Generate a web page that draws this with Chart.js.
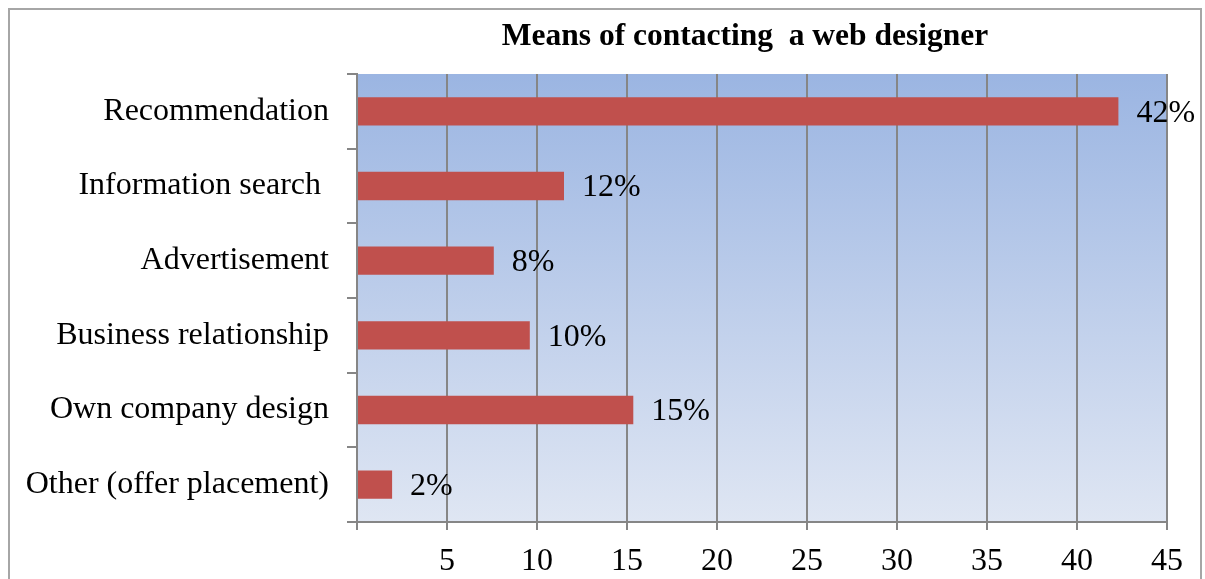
<!DOCTYPE html>
<html>
<head>
<meta charset="utf-8">
<title>Means of contacting a web designer</title>
<script src="https://cdn.jsdelivr.net/npm/chart.js@4.4.1/dist/chart.umd.min.js"></script>
<style>
  html, body { margin: 0; padding: 0; background: #fff; }
  #wrap { width: 1205px; height: 579px; }
</style>
</head>
<body>
<div id="wrap"><canvas id="contactChart" width="1205" height="579"></canvas></div>
<script>
const chartTitle = 'Means of contacting  a web designer';
const categories = [
  'Recommendation',
  'Information search ',
  'Advertisement',
  'Business relationship',
  'Own company design',
  'Other (offer placement)'
];
const shares = [42.3, 11.5, 7.6, 9.6, 15.35, 1.95];
const shareLabels = ['42%', '12%', '8%', '10%', '15%', '2%'];
const xTicks = [0, 5, 10, 15, 20, 25, 30, 35, 40, 45];

const serif = "'Liberation Serif', 'Times New Roman', serif";
const gridGrey = '#868686';

// frame, plot background gradient and title
const backdrop = {
  id: 'backdrop',
  beforeDraw(chart) {
    const { ctx, chartArea } = chart;
    ctx.save();
    ctx.fillStyle = '#fff';
    ctx.fillRect(0, 0, chart.width, chart.height);
    ctx.strokeStyle = '#a6a6a6';
    ctx.lineWidth = 2;
    ctx.strokeRect(9, 9, 1192, 620);
    const g = ctx.createLinearGradient(0, chartArea.top, 0, chartArea.bottom);
    g.addColorStop(0, '#9bb5e2');
    g.addColorStop(1, '#dfe6f3');
    ctx.fillStyle = g;
    ctx.fillRect(chartArea.left, chartArea.top, chartArea.right - chartArea.left, chartArea.bottom - chartArea.top);
    ctx.fillStyle = '#000';
    ctx.font = 'bold 31.5px ' + serif;
    ctx.textAlign = 'center';
    ctx.textBaseline = 'alphabetic';
    ctx.fillText(chartTitle, 745, 45);
    ctx.restore();
  }
};

// percent labels to the right of each bar
const barLabels = {
  id: 'barLabels',
  afterDatasetsDraw(chart) {
    const { ctx } = chart;
    const meta = chart.getDatasetMeta(0);
    ctx.save();
    ctx.fillStyle = '#000';
    ctx.font = '32px ' + serif;
    ctx.textAlign = 'left';
    ctx.textBaseline = 'middle';
    meta.data.forEach((bar, i) => {
      ctx.fillText(shareLabels[i], bar.x + 18, bar.y + 2);
    });
    ctx.restore();
  }
};

const ctx = document.getElementById('contactChart').getContext('2d');
new Chart(ctx, {
  type: 'bar',
  data: {
    labels: categories,
    datasets: [{
      label: 'Share',
      data: shares,
      backgroundColor: '#c0504d',
      borderWidth: 0,
      barPercentage: 0.38,
      categoryPercentage: 1
    }]
  },
  options: {
    indexAxis: 'y',
    responsive: false,
    animation: false,
    layout: {
      padding: { top: 74, right: 38, left: 0, bottom: 0 }
    },
    plugins: {
      legend: { display: false },
      title: { display: false },
      tooltip: { enabled: false }
    },
    scales: {
      x: {
        min: 0,
        max: 45,
        afterFit(scale) { scale.height = 57; },
        afterBuildTicks(scale) { scale.ticks = xTicks.map(v => ({ value: v })); },
        ticks: {
          color: '#000',
          padding: 12,
          font: { family: serif, size: 32 },
          callback: v => (v === 0 ? '' : v)
        },
        grid: {
          color: gridGrey,
          lineWidth: 2,
          tickLength: 8,
          drawTicks: true
        },
        border: { display: true, color: gridGrey, width: 2 }
      },
      y: {
        afterFit(scale) { scale.width = 357; },
        ticks: {
          color: '#000',
          padding: 18,
          font: { family: serif, size: 32 }
        },
        grid: {
          display: true,
          offset: true,
          drawOnChartArea: false,
          drawTicks: true,
          tickLength: 10,
          color: gridGrey,
          lineWidth: 2
        },
        border: { display: true, color: gridGrey, width: 2 }
      }
    }
  },
  plugins: [backdrop, barLabels]
});
</script>
</body>
</html>
